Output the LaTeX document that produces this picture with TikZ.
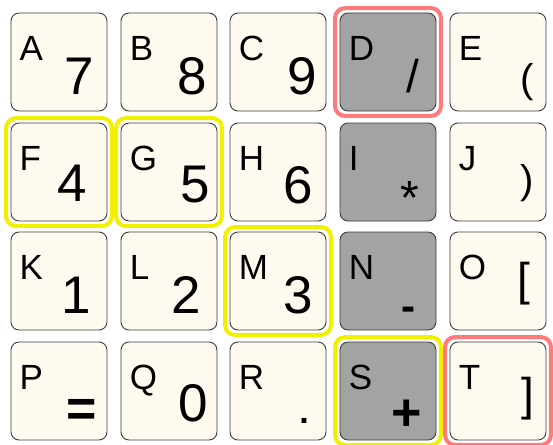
\documentclass[tikz,border=0pt]{standalone}
\usepackage{fontspec}
\setmainfont{Liberation Sans}
\usetikzlibrary{calc}
\definecolor{cream}{RGB}{255,250,240}
\definecolor{keygray}{RGB}{163,163,163}
\definecolor{keyline}{RGB}{60,60,60}
\definecolor{hlred}{RGB}{255,122,122}
\definecolor{hlyellow}{RGB}{240,240,0}
\tikzset{
  keybox/.style={draw=keyline, line width=0.9pt, rounded corners=8pt, minimum width=96pt, minimum height=98pt, inner sep=0pt, fill=cream},
  darkkey/.style={keybox, fill=keygray},
  letter/.style={anchor=base west, inner sep=0pt, font=\fontsize{35}{40}\selectfont},
  digit/.style={anchor=base, inner sep=0pt, font=\fontsize{53}{60}\selectfont},
  sym/.style={anchor=base, inner sep=0pt, font=\fontsize{#1}{#1}\selectfont},
  bsym/.style={anchor=base, inner sep=0pt, font=\fontsize{#1}{#1}\selectfont\bfseries},
  hlbox/.style={line width=4pt, rounded corners=10pt}
}
\newcommand{\keylabel}[2]{\node[letter] (l#1) at ($(k#1.north west)+(9pt,-48pt)$) {#2};}
\newcommand{\hlaround}[2]{\draw[hlbox, draw=#2] ($(k#1.north west)+(-4.5pt,4.5pt)$) rectangle ($(k#1.south east)+(4.5pt,-4.5pt)$);}
\begin{document}
\begin{tikzpicture}[x=1pt,y=-1pt]
\useasboundingbox (0,0) rectangle (553,444);
\clip (0,0) rectangle (553,444);
% keys
\node[keybox]  (kA) at (59,62) {};
\node[keybox]  (kB) at (169,62) {};
\node[keybox]  (kC) at (278,62) {};
\node[darkkey] (kD) at (388,62) {};
\node[keybox]  (kE) at (498,62) {};
\node[keybox]  (kF) at (59,172) {};
\node[keybox]  (kG) at (169,172) {};
\node[keybox]  (kH) at (278,172) {};
\node[darkkey] (kI) at (388,172) {};
\node[keybox]  (kJ) at (498,172) {};
\node[keybox]  (kK) at (59,281) {};
\node[keybox]  (kL) at (169,281) {};
\node[keybox]  (kM) at (278,281) {};
\node[darkkey] (kN) at (388,281) {};
\node[keybox]  (kO) at (498,281) {};
\node[keybox]  (kP) at (59,391) {};
\node[keybox]  (kQ) at (169,391) {};
\node[keybox]  (kR) at (278,391) {};
\node[darkkey] (kS) at (388,391) {};
\node[keybox]  (kT) at (498,391) {};
% highlights
\hlaround{D}{hlred}
\hlaround{T}{hlred}
\hlaround{F}{hlyellow}
\hlaround{G}{hlyellow}
\hlaround{M}{hlyellow}
\hlaround{S}{hlyellow}
% letters
\keylabel{A}{A}\keylabel{B}{B}\keylabel{C}{C}\keylabel{D}{D}\keylabel{E}{E}
\keylabel{F}{F}\keylabel{G}{G}\keylabel{H}{H}\keylabel{I}{I}\keylabel{J}{J}
\keylabel{K}{K}\keylabel{L}{L}\keylabel{M}{M}\keylabel{N}{N}\keylabel{O}{O}
\keylabel{P}{P}\keylabel{Q}{Q}\keylabel{R}{R}\keylabel{S}{S}\keylabel{T}{T}
% digits
\node[digit] (v7) at (79,94) {7};
\node[digit] (v8) at (192,94) {8};
\node[digit] (v9) at (302,94) {9};
\node[digit] (v4) at (72,201) {4};
\node[digit] (v5) at (195,202) {5};
\node[digit] (v6) at (298,203) {6};
\node[digit] (v1) at (76,313) {1};
\node[digit] (v2) at (186,313) {2};
\node[digit] (v3) at (298,313) {3};
\node[digit] (v0) at (193,421) {0};
% symbols
\node[sym=46] (vslash) at (413,92) {/};
\node[sym=40] (vlpar) at (527,92) {(};
\node[sym=48] (vstar) at (410,214) {*};
\node[sym=40] (vrpar) at (527,193) {)};
\node[bsym=42] (vminus) at (408,320) {-};
\node[sym=46] (vlbr) at (524,295) {[};
\node[bsym=52] (vplus) at (407,430) {+};
\node[bsym=52] (veq) at (82,426) {=};
\node[bsym=34] (vdot) at (304,423) {.};
\node[sym=46] (vrbr) at (528,410) {]};
\end{tikzpicture}
\end{document}
